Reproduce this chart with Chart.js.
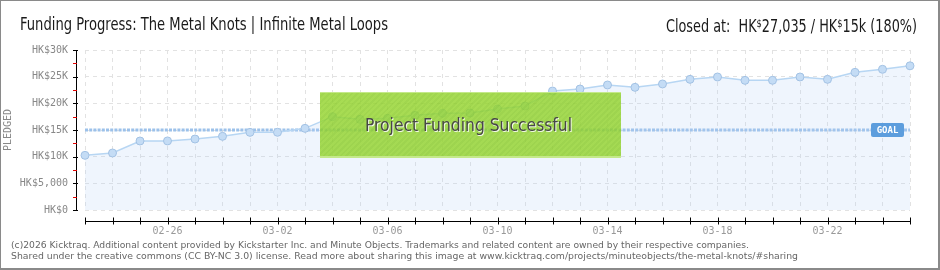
<!DOCTYPE html>
<html>
<head>
<meta charset="utf-8">
<script src="https://cdn.jsdelivr.net/npm/chart.js@4/dist/chart.umd.min.js"></script>
<style>
  html, body { margin:0; padding:0; background:#fff; }
  #wrap { position:relative; width:940px; height:270px; overflow:hidden; background:#fff; }
  #frame { position:absolute; left:0; top:0; width:937px; height:267px; border:1px solid #8a8a8a; border-right-width:2px; border-bottom-width:2px; pointer-events:none; }
  canvas { position:absolute; left:0; top:0; }
  .fit { position:absolute; white-space:nowrap; transform-origin:0 0; display:inline-block; }
  #title { left:20px; top:14px; font-family:"Liberation Sans Narrow","DejaVu Sans Condensed",sans-serif; font-size:17px; color:#1a1a1a; line-height:20px; }
  #closed { left:666px; top:14px; font-family:"Liberation Sans Narrow","DejaVu Sans Condensed",sans-serif; font-size:17px; color:#1a1a1a; line-height:20px; }
  #closed .d { font-size:11px; vertical-align:5px; }
  .foot { left:11px; font-family:"DejaVu Sans",sans-serif; font-size:9.5px; color:#666; line-height:11px; }
  #f1 { top:239px; } #f2 { top:250px; }
  #success { position:absolute; left:320px; top:92px; width:301px; height:66px; box-sizing:border-box;
    background: repeating-linear-gradient(135deg, rgba(148,212,45,0.82) 0px, rgba(148,212,45,0.82) 2px, rgba(140,205,40,0.82) 2px, rgba(140,205,40,0.82) 4px);
    border-top:1px solid #c4e98a; border-bottom:2px solid #c4e98a; }
  #succText { left:45px; top:22px; font-family:"DejaVu Sans Condensed","Liberation Sans Narrow",sans-serif; font-size:18px; color:#474747; line-height:20px; text-shadow:1px 1px 0 rgba(255,255,255,0.85); }
</style>
</head>
<body>
<div id="wrap">
  <canvas id="c" width="940" height="270"></canvas>
  <div id="title" class="fit" data-w="368">Funding Progress: The Metal Knots | Infinite Metal Loops</div>
  <div id="closed" class="fit" data-w="251">Closed at:&nbsp; HK<span class="d">$</span>27,035 / HK<span class="d">$</span>15k (180%)</div>
  <div id="success"><div id="succText" class="fit" data-w="207">Project Funding Successful</div></div>
  <div id="f1" class="fit foot" data-w="738">(c)2026 Kicktraq. Additional content provided by Kickstarter Inc. and Minute Objects. Trademarks and related content are owned by their respective companies.</div>
  <div id="f2" class="fit foot" data-w="787">Shared under the creative commons (CC BY-NC 3.0) license. Read more about sharing this image at www.kicktraq.com/projects/minuteobjects/the-metal-knots/#sharing</div>
  <div id="frame"></div>
</div>
<script>
// ---- data ----
const days = ['02-23','02-24','02-25','02-26','02-27','02-28','03-01','03-02','03-03','03-04',
              '03-05','03-06','03-07','03-08','03-09','03-10','03-11','03-12','03-13','03-14',
              '03-15','03-16','03-17','03-18','03-19','03-20','03-21','03-22','03-23','03-24','03-25'];
const pledged = [10250, 10690, 12940, 12950, 13310, 13810, 14560, 14570, 15310, 17500,
                 17000, 17190, 17750, 18130, 18190, 18940, 19500, 22310, 22690, 23440,
                 23000, 23630, 24500, 24940, 24310, 24320, 24940, 24500, 25810, 26380, 27035];
const goal = 15000;
const xTickLabels = ['02-26','03-02','03-06','03-10','03-14','03-18','03-22'];
const yTickValues = [0, 5000, 10000, 15000, 20000, 25000, 30000];
const yTickLabels = ['HK$0','HK$5,000','HK$10K','HK$15K','HK$20K','HK$25K','HK$30K'];

// fit overlay texts to measured widths
document.querySelectorAll('.fit').forEach(el => {
  const w = el.getBoundingClientRect().width;
  const t = parseFloat(el.dataset.w);
  if (w > 0 && t) el.style.transform = 'scaleX(' + (t / w) + ')';
});

const axisFont = { family: 'DejaVu Sans Mono', size: 10 };

const axesPlugin = {
  id: 'kickAxes',
  beforeDatasetsDraw(chart) {
    const { ctx, chartArea: a, scales: { y } } = chart;
    const gy = y.getPixelForValue(goal);
    ctx.save();
    ctx.strokeStyle = '#9cc1ea';
    ctx.lineWidth = 3;
    ctx.setLineDash([3, 1.2]);
    ctx.beginPath();
    ctx.moveTo(a.left, gy);
    ctx.lineTo(a.right, gy);
    ctx.stroke();
    ctx.restore();
  },
  afterDraw(chart) {
    const { ctx, chartArea: a, scales: { x, y } } = chart;
    ctx.save();
    // y axis
    const ax = a.left - 9;
    ctx.strokeStyle = '#000';
    ctx.lineWidth = 1;
    ctx.beginPath();
    ctx.moveTo(ax + 0.5, y.getPixelForValue(30000));
    ctx.lineTo(ax + 0.5, y.getPixelForValue(0));
    ctx.stroke();
    for (let v = 0; v <= 30000; v += 2500) {
      const py = Math.round(y.getPixelForValue(v)) + 0.5;
      const major = v % 5000 === 0;
      ctx.strokeStyle = major ? '#000' : '#e00000';
      ctx.beginPath();
      ctx.moveTo(ax - 3, py);
      ctx.lineTo(ax + (major ? 2 : 1), py);
      ctx.stroke();
    }
    // x axis
    const ay = Math.round(a.bottom + 11) + 0.5;
    ctx.strokeStyle = '#000';
    ctx.beginPath();
    ctx.moveTo(x.getPixelForValue(0), ay);
    ctx.lineTo(x.getPixelForValue(days.length - 1), ay);
    ctx.stroke();
    for (let i = 0; i < days.length; i++) {
      const px = Math.round(x.getPixelForValue(i)) + 0.5;
      ctx.beginPath();
      ctx.moveTo(px, ay - 4);
      ctx.lineTo(px, ay + 3);
      ctx.stroke();
    }
    // GOAL tag
    const gy = y.getPixelForValue(goal);
    const gx1 = a.right - 39, gx2 = a.right - 6;
    ctx.fillStyle = '#5c9ddd';
    ctx.beginPath();
    ctx.roundRect(gx1, gy - 7, gx2 - gx1, 14, 2);
    ctx.fill();
    ctx.fillStyle = '#fff';
    ctx.font = 'bold 9px "DejaVu Sans Mono"';
    ctx.textAlign = 'center';
    ctx.textBaseline = 'middle';
    ctx.fillText('GOAL', (gx1 + gx2) / 2, gy + 0.5);
    ctx.restore();
  }
};

new Chart(document.getElementById('c'), {
  type: 'line',
  data: {
    labels: days,
    datasets: [{
      data: pledged,
      fill: 'origin',
      backgroundColor: 'rgba(180,210,245,0.22)',
      borderColor: '#b7d6f3',
      borderWidth: 1.5,
      tension: 0,
      pointRadius: 4,
      pointBackgroundColor: '#c4dcf5',
      pointBorderColor: '#a3c2e4',
      pointBorderWidth: 1
    }]
  },
  options: {
    responsive: false,
    animation: false,
    devicePixelRatio: 1,
    layout: { padding: { left: 0, right: 30, top: 50, bottom: 0 } },
    plugins: { legend: { display: false }, tooltip: { enabled: false } },
    scales: {
      x: {
        offset: false,
        grid: { color: '#e2e2e2', drawTicks: false },
        border: { display: false, dash: [4, 4] },
        ticks: {
          autoSkip: false, maxRotation: 0, minRotation: 0, padding: 15,
          color: '#999', font: axisFont,
          callback: (v, i) => xTickLabels.includes(days[i]) ? days[i] : ''
        },
        afterFit: s => { s.height = 60; }
      },
      y: {
        min: 0, max: 30000,
        grid: { color: '#e2e2e2', drawTicks: false },
        border: { display: false, dash: [4, 4] },
        ticks: {
          stepSize: 5000, padding: 17, color: '#888', font: axisFont,
          callback: v => { const k = yTickValues.indexOf(v); return k >= 0 ? yTickLabels[k] : ''; }
        },
        title: { display: true, text: 'PLEDGED', color: '#888', font: { family: 'DejaVu Sans Mono', size: 10 }, padding: { top: 2, bottom: 0 } },
        afterFit: s => { s.width = 85; }
      }
    }
  },
  plugins: [axesPlugin]
});
</script>
</body>
</html>
